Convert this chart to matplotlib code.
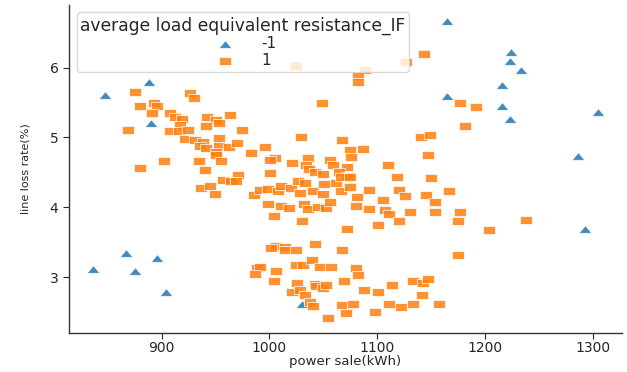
import matplotlib
matplotlib.use("Agg")
import matplotlib.pyplot as plt
import numpy as np

# ---- data ----
legend_title = "average load equivalent resistance_IF"
hue_labels = ["-1", "1"]

neg_x = [847, 888, 890, 836, 867, 875, 896, 904, 1030, 1165, 1224, 1223, 1233,
         1216, 1165, 1216, 1223, 1305, 1286, 1293]
neg_y = [5.61, 5.80, 5.21, 3.12, 3.34, 3.09, 3.27, 2.78, 2.62, 6.67, 6.23, 6.10,
         5.96, 5.75, 5.60, 5.45, 5.27, 5.37, 4.74, 3.69]

pos_x = [1025, 875, 926.6, 929.9, 880, 892.9, 896, 891.4, 907.4, 912, 918.8, 942.4,
         950, 953, 963, 941.5, 917.3, 868.7, 907.4, 916, 924.4, 974.4, 921.3, 930.6,
         938.3, 953.2, 1029.6, 936, 941.5, 953.2, 962.3, 970, 950, 950.7, 982.6, 996,
         1004.8, 1000.8, 1020.9, 1035.7, 1034, 1049, 1067.5, 1055.8, 1058.9, 1074.4,
         1076, 1072, 901.9, 880, 934.6, 939.9, 954.7, 1000.8, 1037, 1042, 1049.6,
         1064.5, 1072, 970.7,
         957, 964, 969, 936.8, 945, 949.8, 985.6, 991, 998.6, 1008, 1011, 1020,
         1026.5, 1032.6, 1028.6, 1040, 1051, 1049.6, 1062, 1066.7, 1074.4, 1066.7,
         1074.4, 1081.5, 999, 1011, 1017.8, 1032, 1036, 1045, 1052.8, 1055.8, 1080.6,
         1004, 1030.4, 1072, 1005.8, 1001.8, 1014.8, 1014, 1024.3, 1042.6, 1067.3,
         988.4, 991, 986.3, 1006.4, 1025, 1031, 1039.4, 1046.6, 1057.4, 1080.6, 1082,
         1004, 1025.7, 1042, 1043.5, 1049.6, 1052.8, 1068.8, 1021, 1028, 1033.3,
         1037.3, 1040.4, 1067.5, 1070.7, 1077.4, 1054.3,
         1143.3, 1126.3, 1089, 1082, 1082, 1176.4, 1191.3, 1181.7, 1140.3, 1148.6,
         1086.7, 1147, 1109.8, 1118.5, 1150,
         1092.3, 1120, 1125.3, 1145.5, 1153.2, 1166.5, 1105.2, 1092.3, 1106.8, 1110.8,
         1130, 1153.2, 1176.4, 1174.9, 1120, 1100.6, 1203.3, 1238.3, 1174.9, 1087.4,
         1100.6, 1113.6, 1133, 1142.4, 1147, 1141.8, 1133, 1121.7, 1110.5, 1097.6, 1157]
pos_y = [6.03, 5.65, 5.63, 5.57, 5.45, 5.49, 5.45, 5.35, 5.35, 5.29, 5.27, 5.30,
         5.25, 5.21, 5.32, 5.17, 5.18, 5.10, 5.09, 5.09, 5.10, 5.10, 4.98, 4.97,
         4.93, 4.99, 5.01, 4.88, 4.85, 4.88, 4.87, 4.92, 4.79, 4.75, 4.78, 4.86,
         4.71, 4.68, 4.64, 4.70, 4.60, 5.49, 4.97, 4.68, 4.61, 4.82,
         4.72, 4.58, 4.67, 4.56, 4.67, 4.54, 4.67, 4.49, 4.55, 4.50, 4.48,
         4.51, 4.45, 4.46,
         4.39, 4.37, 4.38, 4.27, 4.31, 4.19, 4.18, 4.25, 4.26, 4.24, 4.30, 4.27,
         4.38, 4.35, 4.20, 4.23, 4.34, 4.19, 4.35, 4.44, 4.44, 4.23,
         4.29, 4.15, 4.05, 4.02, 3.99, 4.04, 3.98, 4.01, 3.99, 4.07, 4.02,
         3.88, 3.80, 3.69, 3.44, 3.42, 3.43, 3.39, 3.39, 3.47, 3.39,
         3.13, 3.15, 3.04, 3.09, 3.18, 3.18, 3.24, 3.15, 3.14, 3.13, 3.03,
         2.94, 2.91, 2.90, 2.87, 2.85, 2.88, 2.94, 2.79, 2.81, 2.74,
         2.65, 2.58, 2.60, 2.49, 2.62, 2.42,
         6.20, 6.08, 5.96, 5.88, 5.79, 5.49, 5.44, 5.17, 5.01, 5.04,
         4.84, 4.75, 4.61, 4.44, 4.42,
         4.25, 4.25, 4.16, 4.18, 4.08, 4.23, 4.10, 3.97, 3.96, 3.90,
         3.93, 3.93, 3.93, 3.80, 3.80, 3.74, 3.68, 3.82, 3.31, 2.81,
         2.78, 2.89, 2.94, 2.92, 2.97, 2.74, 2.62, 2.57, 2.61, 2.50, 2.62]

x_ticks = [900, 1000, 1100, 1200, 1300]
y_ticks = [3, 4, 5, 6]

# ---- style ----
plt.rcParams['font.family'] = ['DejaVu Sans']
text_color = '#262626'

# wide (horizontally stretched) marker shapes
tri_marker = [(0, 0.6), (-1, -0.6), (1, -0.6), (0, 0.6)]
rect_marker = [(-1, -0.62), (1, -0.62), (1, 0.62), (-1, 0.62), (-1, -0.62)]

fig = plt.figure(figsize=(6.27, 3.72), dpi=100)
ax = fig.add_axes([0.110, 0.105, 0.882, 0.882])

ax.scatter(neg_x, neg_y, marker=tri_marker, s=85, color='#1f77b4', alpha=0.85,
           edgecolors='white', linewidths=0.6, label=hue_labels[0], zorder=2)
ax.scatter(pos_x, pos_y, marker=rect_marker, s=75, color='#ff7f0e', alpha=0.85,
           edgecolors='white', linewidths=0.6, label=hue_labels[1], zorder=3)

ax.set_xlim(814, 1327)
ax.set_ylim(2.2, 6.9)
ax.set_xticks(x_ticks)
ax.set_yticks(y_ticks)
ax.tick_params(axis='both', labelsize=10, colors=text_color, length=4, width=0.8)
ax.tick_params(axis='x', pad=2)
for lab in ax.get_xticklabels() + ax.get_yticklabels():
    lab.set_color(text_color)

for side in ['top', 'right']:
    ax.spines[side].set_visible(False)
for side in ['left', 'bottom']:
    ax.spines[side].set_color('#333333')
    ax.spines[side].set_linewidth(1.0)

ax.set_xlabel("power sale(kWh)", fontsize=9.5, color=text_color, labelpad=0)
ax.set_ylabel("line loss rate(%)", fontsize=8, color=text_color, labelpad=14)

leg = ax.legend(title=legend_title, loc='upper left', fontsize=11,
                title_fontsize=12.3, framealpha=0.8,
                handletextpad=1.4, labelspacing=0.12, borderpad=0.25,
                bbox_to_anchor=(0.0, 1.0))
leg.get_frame().set_edgecolor('#d0d0d0')
leg.get_title().set_color(text_color)
for t in leg.get_texts():
    t.set_color(text_color)

fig.savefig("out.png", dpi=100)
